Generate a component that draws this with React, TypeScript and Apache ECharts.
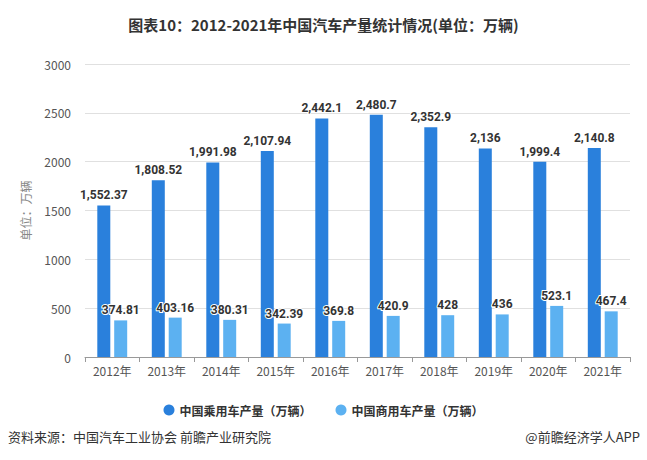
import React, { useEffect, useRef } from "react";
import * as echarts from "echarts";

const categories = ["2012年", "2013年", "2014年", "2015年", "2016年", "2017年", "2018年", "2019年", "2020年", "2021年"];
const passengerName = "中国乘用车产量（万辆）";
const commercialName = "中国商用车产量（万辆）";
const passenger = [1552.37, 1808.52, 1991.98, 2107.94, 2442.1, 2480.7, 2352.9, 2136, 1999.4, 2140.8];
const commercial = [374.81, 403.16, 380.31, 342.39, 369.8, 420.9, 428, 436, 523.1, 467.4];
const titleText = "图表10：2012-2021年中国汽车产量统计情况(单位：万辆)";
const sourceText = "资料来源：中国汽车工业协会 前瞻产业研究院";
const brandText = "@前瞻经济学人APP";

const fmt = (v: number) =>
  v.toLocaleString("en-US", { maximumFractionDigits: 2 });

export default function App() {
  const ref = useRef<HTMLDivElement>(null);
  useEffect(() => {
    if (!ref.current) return;
    const chart = echarts.init(ref.current, null, { renderer: "svg" });
    const font = "'Noto Sans CJK SC', 'Noto Sans', sans-serif";
    const labelStyle = {
      show: true,
      position: "top" as const,
      distance: 4,
      fontSize: 12,
      fontWeight: "bold" as const,
      color: "#333",
      fontFamily: "Roboto, 'Noto Sans', sans-serif",
      textBorderColor: "#fff",
      textBorderWidth: 2,
      formatter: (p: any) => fmt(p.value),
    };
    chart.setOption({
      animation: false,
      backgroundColor: "#fff",
      textStyle: { fontFamily: font },
      title: {
        text: titleText,
        left: "center",
        top: 12,
        textStyle: { fontSize: 15, fontWeight: "bold", color: "#333", fontFamily: font },
      },
      legend: {
        top: 399,
        left: "center",
        icon: "circle",
        itemWidth: 11,
        itemHeight: 11,
        itemGap: 24,
        textStyle: { fontSize: 12, color: "#333", fontWeight: "bold", fontFamily: font },
        data: [passengerName, commercialName],
      },
      grid: { left: 85, right: 17, top: 64, bottom: 103 },
      xAxis: {
        type: "category",
        data: categories,
        axisLine: { lineStyle: { color: "#999" } },
        axisTick: { show: true, lineStyle: { color: "#999" } },
        axisLabel: { color: "#555", fontSize: 12, margin: 7 },
      },
      yAxis: {
        type: "value",
        min: 0,
        max: 3000,
        interval: 500,
        name: "单位：万辆",
        nameLocation: "middle",
        nameGap: 54,
        nameTextStyle: { color: "#888", fontSize: 12 },
        axisLine: { show: false },
        axisTick: { show: false },
        axisLabel: { color: "#555", fontSize: 12, margin: 14, formatter: (v: number) => String(v) },
        splitLine: { lineStyle: { color: "#e0e0e0" } },
      },
      series: [
        {
          name: passengerName,
          type: "bar",
          data: passenger,
          barWidth: 13,
          barGap: "30%",
          itemStyle: { color: "#2a80dc" },
          label: labelStyle,
        },
        {
          name: commercialName,
          type: "bar",
          data: commercial,
          barWidth: 13,
          itemStyle: { color: "#5cb1f1" },
          label: labelStyle,
        },
      ],
      graphic: [
        {
          type: "text",
          left: 8,
          top: 430,
          style: { text: sourceText, fontSize: 13, fill: "#333", fontFamily: font },
        },
        {
          type: "text",
          right: 7,
          top: 430,
          style: { text: brandText, fontSize: 13, fill: "#333", fontFamily: font },
        },
      ],
    });
    return () => chart.dispose();
  }, []);
  return (
    <div
      ref={ref}
      style={{ position: "absolute", left: 0, top: 0, width: 647, height: 460 }}
    />
  );
}
